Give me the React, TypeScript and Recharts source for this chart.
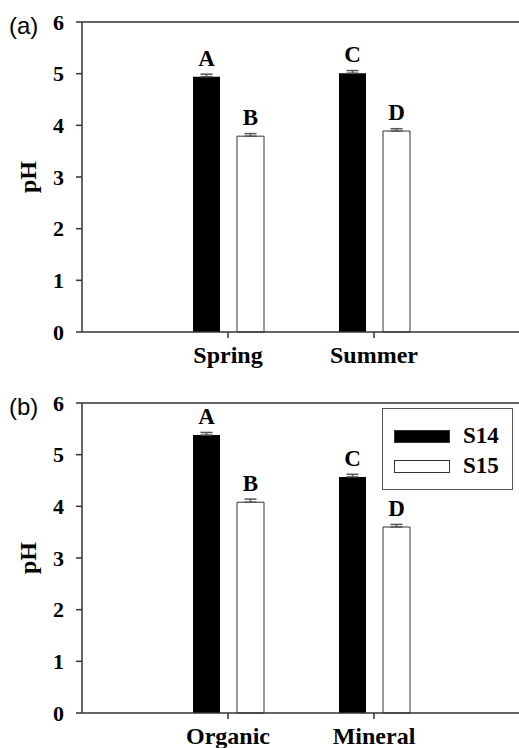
import React from "react";
import { BarChart, Bar, XAxis, YAxis, ErrorBar, LabelList, ReferenceLine, Legend } from "recharts";

const seasons = ["Spring", "Summer"];
const seasonS14 = [4.94, 5.01];
const seasonS15 = [3.79, 3.89];
const seasonS14Err = [0.05, 0.05];
const seasonS15Err = [0.05, 0.045];
const seasonS14Letters = ["A", "C"];
const seasonS15Letters = ["B", "D"];

const horizons = ["Organic", "Mineral"];
const horizonS14 = [5.38, 4.57];
const horizonS15 = [4.08, 3.6];
const horizonS14Err = [0.05, 0.05];
const horizonS15Err = [0.06, 0.05];
const horizonS14Letters = ["A", "C"];
const horizonS15Letters = ["B", "D"];

const yTicks = [0, 1, 2, 3, 4, 5, 6];
const seriesNames = ["S14", "S15"];

const SERIF = '"Liberation Serif", "Times New Roman", serif';
const AXIS = "#333";

function buildRows(cats: string[], a: number[], b: number[], ea: number[], eb: number[], la: string[], lb: string[]) {
  return cats.map((name, i) => ({
    name,
    s14: a[i],
    s15: b[i],
    s14Err: [0, ea[i]],
    s15Err: [0, eb[i]],
    s14Lbl: la[i],
    s15Lbl: lb[i],
  }));
}

const PHLabel = () => (
  <text
    x={36}
    y={177}
    transform="rotate(-90, 36, 177)"
    textAnchor="middle"
    fontFamily={SERIF}
    fontWeight="bold"
    fontSize={24}
    fill="#000"
  >
    pH
  </text>
);

const renderLegend = () => (
  <div
    style={{
      width: 131,
      height: 82,
      border: "1px solid #555",
      boxSizing: "border-box",
      position: "relative",
      fontFamily: SERIF,
      fontWeight: "bold",
      fontSize: 23,
      color: "#000",
    }}
  >
    {seriesNames.map((s, i) => (
      <div key={s} style={{ position: "absolute", left: 11, top: 15 + i * 30, display: "flex", alignItems: "center" }}>
        <div
          style={{
            width: 56,
            height: 13,
            boxSizing: "border-box",
            background: i === 0 ? "#000" : "#fff",
            border: "1px solid #333",
          }}
        />
        <span style={{ marginLeft: 13, lineHeight: "24px" }}>{s}</span>
      </div>
    ))}
  </div>
);

function Panel({ rows, tag, top, height, showLegend }: any) {
  return (
    <div style={{ position: "absolute", left: 0, top, width: 519, height }}>
      <div
        style={{
          position: "absolute",
          left: 9,
          top: 12,
          fontFamily: '"Liberation Sans", Arial, sans-serif',
          fontSize: 24,
          lineHeight: "28px",
        }}
      >
        {tag}
      </div>
      <BarChart
        width={519}
        height={height}
        data={rows}
        margin={{ top: 22, right: 0, left: 0, bottom: 0 }}
        barSize={27}
        barGap={17}
      >
        <XAxis
          dataKey="name"
          padding={{ left: 73, right: 72 }}
          height={height - 22 - 310}
          stroke={AXIS}
          strokeWidth={1.5}
          tickSize={6}
          tickMargin={8}
          tick={{ fontFamily: SERIF, fontWeight: "bold", fontSize: 24, fill: "#000" }}
        />
        <YAxis
          domain={[0, 6]}
          ticks={yTicks}
          width={82}
          stroke={AXIS}
          strokeWidth={1.5}
          tickSize={6}
          tickMargin={12}
          tick={{ fontFamily: SERIF, fontWeight: "bold", fontSize: 22, fill: "#000" }}
          label={<PHLabel />}
        />
        <ReferenceLine y={6} stroke={AXIS} strokeWidth={1.5} />
        <Bar dataKey="s14" name="S14" fill="#000" isAnimationActive={false}>
          <ErrorBar dataKey="s14Err" width={6} stroke="#555" strokeWidth={1.5} />
          <LabelList dataKey="s14Lbl" position="top" offset={11} style={{ fontFamily: SERIF, fontWeight: "bold", fontSize: 23, fill: "#000" }} />
        </Bar>
        <Bar dataKey="s15" name="S15" fill="#fff" stroke="#333" strokeWidth={1} isAnimationActive={false}>
          <ErrorBar dataKey="s15Err" width={6} stroke="#555" strokeWidth={1.5} />
          <LabelList dataKey="s15Lbl" position="top" offset={11} style={{ fontFamily: SERIF, fontWeight: "bold", fontSize: 23, fill: "#000", stroke: "none" }} />
        </Bar>
        {showLegend && (
          <Legend
            layout="vertical"
            align="center"
            verticalAlign="middle"
            content={renderLegend}
            wrapperStyle={{ position: "absolute", left: 382, top: 27, width: 131, height: 82 }}
          />
        )}
      </BarChart>
    </div>
  );
}

export default function App() {
  const seasonRows = buildRows(seasons, seasonS14, seasonS15, seasonS14Err, seasonS15Err, seasonS14Letters, seasonS15Letters);
  const horizonRows = buildRows(horizons, horizonS14, horizonS15, horizonS14Err, horizonS15Err, horizonS14Letters, horizonS15Letters);
  return (
    <div style={{ position: "absolute", left: 0, top: 0, width: 519, height: 748, overflow: "hidden", background: "#fff" }}>
      <Panel rows={seasonRows} tag="(a)" top={0} height={372} showLegend={false} />
      <Panel rows={horizonRows} tag="(b)" top={381} height={367} showLegend={true} />
    </div>
  );
}
